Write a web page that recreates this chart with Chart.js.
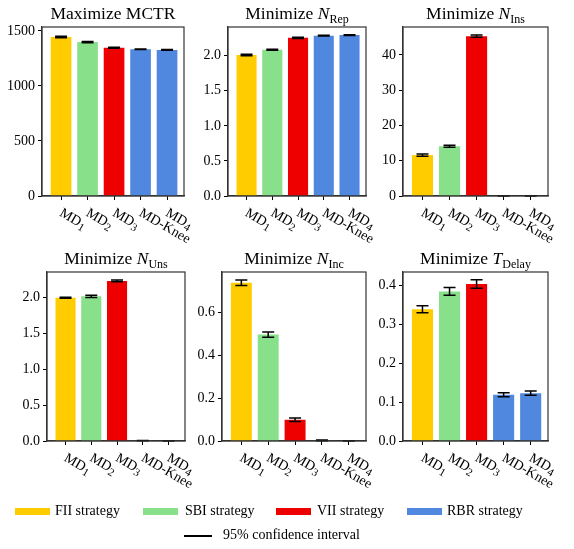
<!DOCTYPE html>
<html>
<head>
<meta charset="utf-8">
<script src="https://cdn.jsdelivr.net/npm/chart.js@4.4.1/dist/chart.umd.min.js"></script>
<style>
  body { margin: 0; background: #fff; font-family: "Liberation Serif", serif; }
  #wrap { position: relative; width: 574px; height: 549px; overflow: hidden; }
  canvas { position: absolute; }
  .leg { position: absolute; font-size: 14px; line-height: 16px; color: #000; white-space: nowrap; }
  .patch { position: absolute; height: 7px; width: 35px; }
</style>
</head>
<body>
<div id="wrap"></div>
<script>
const categories = ['MD1', 'MD2', 'MD3', 'MD-Knee', 'MD4'];
const barColors = ['#FFCC00', '#88E08A', '#EE0000', '#5088E0', '#5088E0'];
const strategies = ['FII strategy', 'SBI strategy', 'VII strategy', 'RBR strategy'];
const strategyColors = ['#FFCC00', '#88E08A', '#EE0000', '#5088E0'];

// mean values and 95% ci half widths per panel
const mctr = [1446, 1399, 1347, 1334, 1328];
const mctrCI = [7, 6, 4, 3, 3];
const nRep = [2.01, 2.086, 2.255, 2.287, 2.295];
const nRepCI = [0.01, 0.008, 0.008, 0.006, 0.006];
const nIns = [11.6, 14.1, 45.3, 0, 0];
const nInsCI = [0.3, 0.25, 0.3, 0, 0];
const nUns = [2.0, 2.02, 2.236, 0.005, 0];
const nUnsCI = [0.008, 0.015, 0.012, 0.003, 0];
const nInc = [0.738, 0.496, 0.099, 0.003, 0];
const nIncCI = [0.013, 0.012, 0.008, 0.002, 0];
const tDelay = [0.339, 0.385, 0.404, 0.119, 0.123];
const tDelayCI = [0.009, 0.01, 0.011, 0.005, 0.0055];

// y tick values per panel
const mctrTicks = [0, 500, 1000, 1500];
const repTicks = [0, 0.5, 1.0, 1.5, 2.0];
const insTicks = [0, 10, 20, 30, 40];
const unsTicks = [0, 0.5, 1.0, 1.5, 2.0];
const incTicks = [0, 0.2, 0.4, 0.6];
const delayTicks = [0, 0.1, 0.2, 0.3, 0.4];

const panels = [
  { title: ['Maximize MCTR', '', ''], values: mctr, ci: mctrCI, max: 1536, ticks: mctrTicks, dec: 0, box: [42, 27, 184, 196] },
  { title: ['Minimize ', 'N', 'Rep'], values: nRep, ci: nRepCI, max: 2.41, ticks: repTicks, dec: 1, box: [228, 27, 366, 196] },
  { title: ['Minimize ', 'N', 'Ins'], values: nIns, ci: nInsCI, max: 47.9, ticks: insTicks, dec: 0, box: [403, 27, 548, 196] },
  { title: ['Minimize ', 'N', 'Uns'], values: nUns, ci: nUnsCI, max: 2.36, ticks: unsTicks, dec: 1, box: [47, 272, 185, 441] },
  { title: ['Minimize ', 'N', 'Inc'], values: nInc, ci: nIncCI, max: 0.788, ticks: incTicks, dec: 1, box: [222, 272, 366, 441] },
  { title: ['Minimize ', 'T', 'Delay'], values: tDelay, ci: tDelayCI, max: 0.435, ticks: delayTicks, dec: 1, box: [403, 272, 548, 441] }
];

const FONT = '"Liberation Serif", serif';
const AXW = 45, PADT = 27, PADR = 20, AXH = 58;

function makeExtras(p) {
  return {
    id: 'extras',
    afterDatasetsDraw(chart) {
      const ctx = chart.ctx;
      const y = chart.scales.y;
      const meta = chart.getDatasetMeta(0);
      ctx.save();
      ctx.strokeStyle = '#000';
      ctx.lineWidth = 1.5;
      meta.data.forEach((bar, i) => {
        const v = p.values[i], e = p.ci[i];
        const y0 = y.getPixelForValue(v - e), y1 = y.getPixelForValue(v + e);
        ctx.beginPath();
        ctx.moveTo(bar.x, y0); ctx.lineTo(bar.x, y1);
        ctx.moveTo(bar.x - 6, y0); ctx.lineTo(bar.x + 6, y0);
        ctx.moveTo(bar.x - 6, y1); ctx.lineTo(bar.x + 6, y1);
        ctx.stroke();
      });
      ctx.restore();
    },
    afterDraw(chart) {
      const ctx = chart.ctx;
      const a = chart.chartArea;
      ctx.save();
      // frame
      ctx.strokeStyle = '#333';
      ctx.lineWidth = 1.2;
      ctx.strokeRect(a.left, a.top, a.right - a.left, a.bottom - a.top);

      // title
      ctx.fillStyle = '#000';
      ctx.textBaseline = 'alphabetic';
      ctx.font = '17.5px ' + FONT;
      const w1 = ctx.measureText(p.title[0]).width;
      ctx.font = 'italic 17.5px ' + FONT;
      const w2 = ctx.measureText(p.title[1]).width;
      ctx.font = '12px ' + FONT;
      const w3 = ctx.measureText(p.title[2]).width;
      let tx = (a.left + a.right) / 2 - (w1 + w2 + w3) / 2;
      const ty = a.top - 8;
      ctx.font = '17.5px ' + FONT;
      ctx.fillText(p.title[0], tx, ty);
      tx += w1;
      ctx.font = 'italic 17.5px ' + FONT;
      ctx.fillText(p.title[1], tx, ty);
      tx += w2;
      ctx.font = '12px ' + FONT;
      ctx.fillText(p.title[2], tx, ty + 3.5);

      // rotated x labels
      const x = chart.scales.x;
      categories.forEach((c, i) => {
        const px = x.getPixelForValue(i);
        ctx.save();
        ctx.translate(px + 3, a.bottom + 10);
        ctx.rotate(Math.PI / 6);
        ctx.textAlign = 'left';
        ctx.textBaseline = 'top';
        const m = c.match(/^MD(\d)$/);
        ctx.font = '14px ' + FONT;
        if (m) {
          ctx.fillText('MD', 0, 0);
          const w = ctx.measureText('MD').width;
          ctx.font = '11px ' + FONT;
          ctx.fillText(m[1], w, 5);
        } else {
          ctx.fillText(c, 0, 0);
        }
        ctx.restore();
      });
      ctx.restore();
    }
  };
}

const wrap = document.getElementById('wrap');

panels.forEach((p) => {
  const [L, T, R, B] = p.box;
  const cv = document.createElement('canvas');
  const w = (R - L) + AXW + PADR;
  const h = (B - T) + PADT + AXH;
  cv.width = w;
  cv.height = h;
  cv.style.left = (L - AXW) + 'px';
  cv.style.top = (T - PADT) + 'px';
  cv.style.width = w + 'px';
  cv.style.height = h + 'px';
  wrap.appendChild(cv);

  new Chart(cv, {
    type: 'bar',
    data: {
      datasets: [{
        data: p.values.map((v, i) => ({ x: i, y: v })),
        backgroundColor: barColors,
        borderWidth: 0,
        barPercentage: 0.78,
        categoryPercentage: 1
      }]
    },
    options: {
      responsive: false,
      animation: false,
      layout: { padding: { left: 0, top: PADT, right: PADR, bottom: 0 } },
      plugins: { legend: { display: false }, tooltip: { enabled: false } },
      scales: {
        x: {
          type: 'linear',
          offset: false,
          min: -0.72,
          max: 4.64,
          afterBuildTicks: (ax) => { ax.ticks = categories.map((c, i) => ({ value: i })); },
          afterFit: (ax) => { ax.height = AXH; },
          ticks: { display: false },
          grid: { display: true, offset: false, drawOnChartArea: false, drawTicks: true, tickLength: 4, color: '#000', lineWidth: 1 },
          border: { display: true, color: '#333', width: 1.2 }
        },
        y: {
          min: 0,
          max: p.max,
          afterBuildTicks: (ax) => { ax.ticks = p.ticks.map((v) => ({ value: v })); },
          afterFit: (ax) => { ax.width = AXW; },
          ticks: {
            padding: 3,
            color: '#000',
            font: { family: FONT, size: 14 },
            callback: (v) => Number(v).toFixed(p.dec)
          },
          grid: { display: true, drawOnChartArea: false, drawTicks: true, tickLength: 4, color: '#000', lineWidth: 1 },
          border: { display: true, color: '#333', width: 1.2 }
        }
      }
    },
    plugins: [makeExtras(p)]
  });
});

// legend
const patchX = [15, 143, 276, 407];
const textX = [55, 185, 317, 447];
strategies.forEach((s, i) => {
  const pt = document.createElement('div');
  pt.className = 'patch';
  pt.style.left = patchX[i] + 'px';
  pt.style.top = '508px';
  pt.style.background = strategyColors[i];
  wrap.appendChild(pt);
  const t = document.createElement('div');
  t.className = 'leg';
  t.style.left = textX[i] + 'px';
  t.style.top = '503px';
  t.textContent = s;
  wrap.appendChild(t);
});
const ln = document.createElement('div');
ln.style.cssText = 'position:absolute;left:184px;top:535px;width:28px;height:1.5px;background:#000;';
wrap.appendChild(ln);
const lt = document.createElement('div');
lt.className = 'leg';
lt.style.left = '223px';
lt.style.top = '527px';
lt.textContent = '95% confidence interval';
wrap.appendChild(lt);
</script>
</body>
</html>
